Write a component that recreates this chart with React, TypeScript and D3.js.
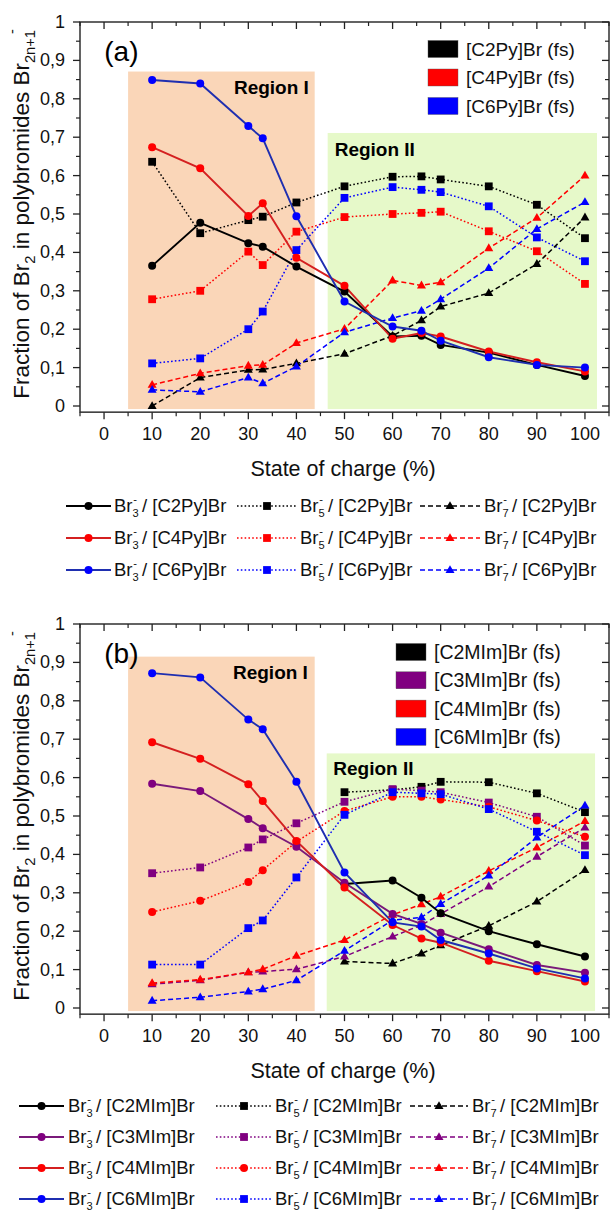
import React from "react";
import * as d3 from "d3";

// ---------------- DATA ----------------
const soc = [10, 20, 30, 33, 40, 50, 60, 66, 70, 80, 90, 100];
const socC2MIm = [50, 60, 66, 70, 80, 90, 100];

// panel (a)
const br3C2Py = [0.365, 0.477, 0.424, 0.415, 0.363, 0.298, 0.181, 0.183, 0.159, 0.139, 0.107, 0.078];
const br5C2Py = [0.636, 0.45, 0.484, 0.493, 0.53, 0.572, 0.597, 0.598, 0.59, 0.572, 0.524, 0.437];
const br7C2Py = [0.0, 0.074, 0.094, 0.095, 0.111, 0.136, 0.183, 0.223, 0.259, 0.294, 0.37, 0.491];
const br3C4Py = [0.674, 0.619, 0.495, 0.528, 0.386, 0.313, 0.175, 0.19, 0.181, 0.142, 0.114, 0.09];
const br5C4Py = [0.278, 0.3, 0.402, 0.367, 0.454, 0.492, 0.5, 0.503, 0.506, 0.455, 0.403, 0.318];
const br7C4Py = [0.055, 0.085, 0.105, 0.107, 0.164, 0.201, 0.327, 0.314, 0.322, 0.411, 0.49, 0.6];
const br3C6Py = [0.849, 0.84, 0.729, 0.697, 0.494, 0.272, 0.207, 0.196, 0.17, 0.127, 0.107, 0.1];
const br5C6Py = [0.111, 0.124, 0.2, 0.246, 0.406, 0.542, 0.57, 0.563, 0.557, 0.52, 0.439, 0.377];
const br7C6Py = [0.042, 0.037, 0.074, 0.059, 0.103, 0.192, 0.229, 0.248, 0.278, 0.359, 0.461, 0.531];

// panel (b)
const br3C2MIm = [0.323, 0.332, 0.287, 0.247, 0.2, 0.166, 0.134];
const br5C2MIm = [0.562, 0.568, 0.576, 0.589, 0.588, 0.559, 0.51];
const br7C2MIm = [0.121, 0.116, 0.142, 0.163, 0.214, 0.277, 0.359];
const br3C3MIm = [0.584, 0.565, 0.492, 0.468, 0.42, 0.326, 0.245, 0.219, 0.196, 0.153, 0.112, 0.092];
const br5C3MIm = [0.351, 0.366, 0.418, 0.439, 0.481, 0.537, 0.57, 0.566, 0.562, 0.535, 0.498, 0.423];
const br7C3MIm = [0.062, 0.072, 0.093, 0.095, 0.101, 0.134, 0.186, 0.216, 0.245, 0.316, 0.394, 0.47];
const br3C4MIm = [0.692, 0.649, 0.583, 0.539, 0.435, 0.314, 0.216, 0.181, 0.17, 0.123, 0.096, 0.069];
const br5C4MIm = [0.25, 0.279, 0.328, 0.359, 0.433, 0.513, 0.55, 0.55, 0.543, 0.524, 0.488, 0.446];
const br7C4MIm = [0.065, 0.074, 0.093, 0.101, 0.136, 0.177, 0.243, 0.27, 0.29, 0.357, 0.418, 0.487];
const br3C6MIm = [0.872, 0.861, 0.751, 0.726, 0.589, 0.353, 0.223, 0.212, 0.177, 0.142, 0.103, 0.077];
const br5C6MIm = [0.113, 0.113, 0.208, 0.228, 0.34, 0.503, 0.562, 0.559, 0.557, 0.518, 0.459, 0.398];
const br7C6MIm = [0.019, 0.028, 0.043, 0.049, 0.072, 0.149, 0.229, 0.236, 0.271, 0.345, 0.444, 0.527];

const xTicks = [0, 10, 20, 30, 40, 50, 60, 70, 80, 90, 100];
const yTicks = [0, 0.1, 0.2, 0.3, 0.4, 0.5, 0.6, 0.7, 0.8, 0.9, 1];
const yTickLabels = ["0", "0,1", "0,2", "0,3", "0,4", "0,5", "0,6", "0,7", "0,8", "0,9", "1"];

const saltsA = ["[C2Py]Br", "[C4Py]Br", "[C6Py]Br"];
const saltsB = ["[C2MIm]Br", "[C3MIm]Br", "[C4MIm]Br", "[C6MIm]Br"];

// ---------------- STYLE ----------------
const FONT = "'Liberation Sans', Arial, Helvetica, sans-serif";
const C = {
  black: { mark: "#000000", line: "#000000" },
  red: { mark: "#ff0000", line: "#d42020" },
  blue: { mark: "#0000ff", line: "#1f2fb0" },
  purple: { mark: "#800080", line: "#7a1a7a" },
};
const ORANGE = "#fad6b8";
const GREEN = "#e6f9c9";

type Kind = "solid" | "dot" | "dash";
type Shape = "circle" | "square" | "triangle";
interface Series { x: number[]; y: number[]; color: { mark: string; line: string }; kind: Kind; shape: Shape }

const seriesA: Series[] = [
  { x: soc, y: br5C2Py, color: C.black, kind: "dot", shape: "square" },
  { x: soc, y: br5C4Py, color: C.red, kind: "dot", shape: "square" },
  { x: soc, y: br5C6Py, color: C.blue, kind: "dot", shape: "square" },
  { x: soc, y: br7C2Py, color: C.black, kind: "dash", shape: "triangle" },
  { x: soc, y: br7C4Py, color: C.red, kind: "dash", shape: "triangle" },
  { x: soc, y: br7C6Py, color: C.blue, kind: "dash", shape: "triangle" },
  { x: soc, y: br3C2Py, color: C.black, kind: "solid", shape: "circle" },
  { x: soc, y: br3C4Py, color: C.red, kind: "solid", shape: "circle" },
  { x: soc, y: br3C6Py, color: C.blue, kind: "solid", shape: "circle" },
];

const seriesB: Series[] = [
  { x: socC2MIm, y: br5C2MIm, color: C.black, kind: "dot", shape: "square" },
  { x: soc, y: br5C3MIm, color: C.purple, kind: "dot", shape: "square" },
  { x: soc, y: br5C4MIm, color: C.red, kind: "dot", shape: "circle" },
  { x: soc, y: br5C6MIm, color: C.blue, kind: "dot", shape: "square" },
  { x: socC2MIm, y: br7C2MIm, color: C.black, kind: "dash", shape: "triangle" },
  { x: soc, y: br7C3MIm, color: C.purple, kind: "dash", shape: "triangle" },
  { x: soc, y: br7C4MIm, color: C.red, kind: "dash", shape: "triangle" },
  { x: soc, y: br7C6MIm, color: C.blue, kind: "dash", shape: "triangle" },
  { x: socC2MIm, y: br3C2MIm, color: C.black, kind: "solid", shape: "circle" },
  { x: soc, y: br3C3MIm, color: C.purple, kind: "solid", shape: "circle" },
  { x: soc, y: br3C4MIm, color: C.red, kind: "solid", shape: "circle" },
  { x: soc, y: br3C6MIm, color: C.blue, kind: "solid", shape: "circle" },
];

function dashOf(kind: Kind) {
  if (kind === "dot") return "1.6,2.2";
  if (kind === "dash") return "5,3";
  return undefined;
}
function widthOf(kind: Kind) {
  return kind === "solid" ? 1.9 : 1.5;
}

function Marker({ cx, cy, shape, color }: { cx: number; cy: number; shape: Shape; color: string }) {
  if (shape === "circle") return <circle cx={cx} cy={cy} r={4} fill={color} />;
  if (shape === "square") return <rect x={cx - 3.9} y={cy - 3.9} width={7.8} height={7.8} fill={color} />;
  const s = 9;
  const h = s * 0.866;
  return (
    <path
      d={`M${cx},${cy - h * 0.62}L${cx + s / 2},${cy + h * 0.38}L${cx - s / 2},${cy + h * 0.38}Z`}
      fill={color}
    />
  );
}

function BrLabel({ n, salt }: { n: string; salt: string }) {
  return (
    <>
      <tspan>Br</tspan>
      <tspan dy={5} fontSize="0.6em">{n}</tspan>
      <tspan dx={-5.5} dy={-14} fontSize="0.6em">-</tspan>
      <tspan dy={9}>{` / ${salt}`}</tspan>
    </>
  );
}

interface PanelProps {
  off: number;
  tag: string;
  series: Series[];
  regionI: [number, number, number];
  regionII: [number, number, number];
  regionILabel: [number, number];
  regionIILabel: [number, number];
  box: { salts: string[]; colors: string[]; x: number; y0: number; dy: number; tx: number; fs: number };
  legend: {
    rows: number[];
    salts: string[];
    colors: { mark: string; line: string }[];
    cols: { x1: number; x2: number; tx: number; kind: Kind; n: string }[];
    shapes: Shape[][];
  };
}

function Panel(p: PanelProps) {
  const yZero = 406 + p.off;
  const yOne = 22 + p.off;
  const x = d3.scaleLinear().domain([-5, 105]).range([80, 609]);
  const y = d3.scaleLinear().domain([0, 1]).range([yZero, yOne]);
  const yBottom = y(-0.016);
  const line = d3
    .line<[number, number]>()
    .x((d) => x(d[0]))
    .y((d) => y(d[1]));
  const minorX = d3.range(-5, 106, 10);
  const minorY = d3.range(0.05, 1, 0.1);
  return (
    <g fontFamily={FONT}>
      {/* regions */}
      <rect
        x={x(p.regionI[0])}
        y={y(p.regionI[2])}
        width={x(p.regionI[1]) - x(p.regionI[0])}
        height={y(-0.008) - y(p.regionI[2])}
        fill={ORANGE}
      />
      <rect
        x={x(p.regionII[0])}
        y={y(p.regionII[2])}
        width={x(p.regionII[1]) - x(p.regionII[0])}
        height={y(-0.008) - y(p.regionII[2])}
        fill={GREEN}
      />
      <text x={x(p.regionILabel[0])} y={y(p.regionILabel[1])} fontSize={19} fontWeight="bold" textAnchor="middle" dominantBaseline="central">
        Region I
      </text>
      <text x={x(p.regionIILabel[0])} y={y(p.regionIILabel[1])} fontSize={19} fontWeight="bold" textAnchor="middle" dominantBaseline="central">
        Region II
      </text>
      {/* series lines */}
      {p.series.map((s, i) => (
        <path
          key={"l" + i}
          d={line(s.x.map((v, j) => [v, s.y[j]] as [number, number])) || ""}
          fill="none"
          stroke={s.kind === "solid" ? s.color.line : s.color.mark}
          strokeWidth={widthOf(s.kind)}
          strokeDasharray={dashOf(s.kind)}
        />
      ))}
      {p.series.map((s, i) => (
        <g key={"m" + i}>
          {s.x.map((v, j) => (
            <Marker key={j} cx={x(v)} cy={y(s.y[j])} shape={s.shape} color={s.color.mark} />
          ))}
        </g>
      ))}
      {/* frame */}
      <rect x={80} y={yOne} width={529} height={yBottom - yOne} fill="none" stroke="#222" strokeWidth={1.4} />
      {/* x ticks */}
      {xTicks.map((t) => (
        <g key={"xt" + t}>
          <line x1={x(t)} x2={x(t)} y1={yBottom} y2={yBottom + 7} stroke="#222" strokeWidth={1.3} />
          <line x1={x(t)} x2={x(t)} y1={yOne} y2={yOne + 7} stroke="#222" strokeWidth={1.3} />
          <text x={x(t)} y={yBottom + 28} fontSize={18} textAnchor="middle" fill="#111">
            {t}
          </text>
        </g>
      ))}
      {minorX.map((t) => (
        <g key={"xm" + t}>
          <line x1={x(t)} x2={x(t)} y1={yBottom} y2={yBottom + 4} stroke="#222" strokeWidth={1.2} />
          <line x1={x(t)} x2={x(t)} y1={yOne} y2={yOne + 4} stroke="#222" strokeWidth={1.2} />
        </g>
      ))}
      {/* y ticks */}
      {yTicks.map((t, i) => (
        <g key={"yt" + i}>
          <line x1={80} x2={73} y1={y(t)} y2={y(t)} stroke="#222" strokeWidth={1.3} />
          <line x1={609} x2={602} y1={y(t)} y2={y(t)} stroke="#222" strokeWidth={1.3} />
          <text x={65} y={y(t)} fontSize={18} textAnchor="end" dominantBaseline="central" fill="#111">
            {yTickLabels[i]}
          </text>
        </g>
      ))}
      {minorY.map((t, i) => (
        <g key={"ym" + i}>
          <line x1={80} x2={76} y1={y(t)} y2={y(t)} stroke="#222" strokeWidth={1.2} />
          <line x1={609} x2={605} y1={y(t)} y2={y(t)} stroke="#222" strokeWidth={1.2} />
        </g>
      ))}
      {/* axis titles */}
      <text x={343} y={yBottom + 64} fontSize={21.5} textAnchor="middle" fill="#111">
        State of charge (%)
      </text>
      <text transform={`translate(29,${(yZero + yOne) / 2}) rotate(-90)`} fontSize={22.5} textAnchor="middle" fill="#111">
        <tspan>Fraction of Br</tspan>
        <tspan dy={6} fontSize="0.65em">2</tspan>
        <tspan dy={-6}> in polybromides Br</tspan>
        <tspan dy={6} fontSize="0.65em">2n+1</tspan>
        <tspan dx={-4} dy={-18} fontSize="0.65em">-</tspan>
      </text>
      {/* panel tag */}
      <text x={x(3.6)} y={y(0.923)} fontSize={28} textAnchor="middle" dominantBaseline="central">
        {p.tag}
      </text>
      {/* box legend */}
      {p.box.salts.map((s, i) => (
        <g key={"b" + i}>
          <rect x={p.box.x} y={p.box.y0 + i * p.box.dy - 8.5} width={30} height={17} fill={p.box.colors[i]} stroke="#555" strokeWidth={0.4} />
          <text x={p.box.tx} y={p.box.y0 + i * p.box.dy} fontSize={p.box.fs} dominantBaseline="central" fill="#111">
            {s + " (fs)"}
          </text>
        </g>
      ))}
      {/* bottom legend */}
      {p.legend.rows.map((ry, r) => (
        <g key={"lg" + r}>
          {p.legend.cols.map((c, k) => {
            const col = p.legend.colors[r];
            return (
              <g key={k}>
                <line
                  x1={c.x1}
                  x2={c.x2}
                  y1={ry}
                  y2={ry}
                  stroke={c.kind === "solid" ? col.line : col.mark}
                  strokeWidth={widthOf(c.kind)}
                  strokeDasharray={dashOf(c.kind)}
                />
                <Marker cx={(c.x1 + c.x2) / 2} cy={ry} shape={p.legend.shapes[r][k]} color={col.mark} />
                <text x={c.tx} y={ry + 6} fontSize={18.5} fill="#111">
                  <BrLabel n={c.n} salt={p.legend.salts[r]} />
                </text>
              </g>
            );
          })}
        </g>
      ))}
    </g>
  );
}

export default function App() {
  return (
    <svg width={610} height={1211} viewBox="0 0 610 1211" style={{ display: "block", position: "absolute", left: 0, top: 0, background: "#fff" }}>
      <rect width={610} height={1211} fill="#fff" />
      <Panel
        off={0}
        tag="(a)"
        series={seriesA}
        regionI={[5, 43.8, 0.871]}
        regionII={[46.5, 102.5, 0.711]}
        regionILabel={[34.8, 0.83]}
        regionIILabel={[56.3, 0.667]}
        box={{ salts: saltsA, colors: [C.black.mark, C.red.mark, C.blue.mark], x: 428, y0: 49, dy: 28.5, tx: 466, fs: 19 }}
        legend={{
          rows: [506, 538, 570],
          salts: saltsA,
          colors: [C.black, C.red, C.blue],
          cols: [
            { x1: 66, x2: 111, tx: 114, kind: "solid", n: "3" },
            { x1: 237, x2: 297, tx: 300, kind: "dot", n: "5" },
            { x1: 420, x2: 480, tx: 484, kind: "dash", n: "7" },
          ],
          shapes: [
            ["circle", "square", "triangle"],
            ["circle", "square", "triangle"],
            ["circle", "square", "triangle"],
          ],
        }}
      />
      <Panel
        off={602}
        tag="(b)"
        series={seriesB}
        regionI={[5, 43.8, 0.915]}
        regionII={[46.3, 102.1, 0.663]}
        regionILabel={[34.6, 0.875]}
        regionIILabel={[56, 0.625]}
        box={{ salts: saltsB, colors: [C.black.mark, C.purple.mark, C.red.mark, C.blue.mark], x: 396, y0: 652, dy: 28.3, tx: 434, fs: 19.5 }}
        legend={{
          rows: [1106, 1137, 1168, 1199],
          salts: saltsB,
          colors: [C.black, C.purple, C.red, C.blue],
          cols: [
            { x1: 19, x2: 64, tx: 68, kind: "solid", n: "3" },
            { x1: 216, x2: 272, tx: 275, kind: "dot", n: "5" },
            { x1: 410, x2: 468, tx: 472, kind: "dash", n: "7" },
          ],
          shapes: [
            ["circle", "square", "triangle"],
            ["circle", "square", "triangle"],
            ["circle", "circle", "triangle"],
            ["circle", "square", "triangle"],
          ],
        }}
      />
    </svg>
  );
}
